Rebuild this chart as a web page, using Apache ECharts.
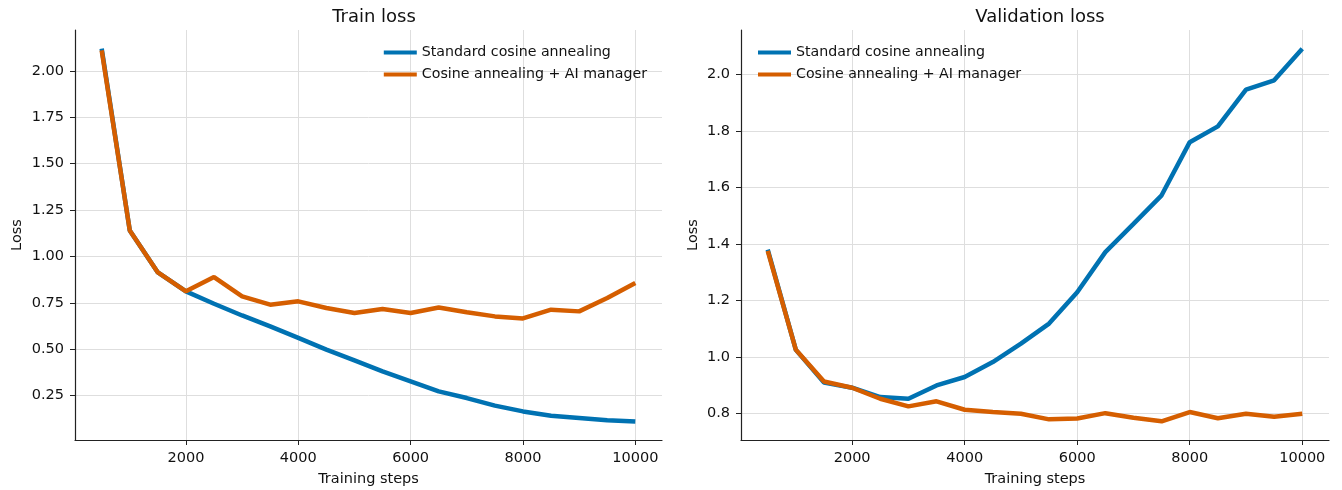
<!DOCTYPE html>
<html>
<head>
<meta charset="utf-8">
<script src="https://cdn.jsdelivr.net/npm/echarts@6/dist/echarts.min.js"></script>
<style>
  html, body { margin: 0; padding: 0; background: #fff; }
  #chart { width: 1342px; height: 490px; }
</style>
</head>
<body>
<div id="chart"></div>
<script>
// training steps (x) for every logged point
const steps = [500, 1000, 1500, 2000, 2500, 3000, 3500, 4000, 4500, 5000,
  5500, 6000, 6500, 7000, 7500, 8000, 8500, 9000, 9500, 10000];

// train loss
const trainStd = [2.12, 1.14, 0.914, 0.812, 0.745, 0.682, 0.623, 0.561, 0.498, 0.44,
  0.381, 0.327, 0.273, 0.237, 0.196, 0.165, 0.142, 0.13, 0.117, 0.111];
const trainAI = [2.11, 1.14, 0.914, 0.812, 0.889, 0.785, 0.74, 0.758, 0.722, 0.695,
  0.717, 0.695, 0.725, 0.699, 0.677, 0.666, 0.713, 0.704, 0.776, 0.857];

// validation loss
const valStd = [1.38, 1.025, 0.909, 0.891, 0.858, 0.852, 0.899, 0.929, 0.982, 1.047,
  1.118, 1.229, 1.371, 1.471, 1.572, 1.76, 1.816, 1.946, 1.979, 2.091];
const valAI = [1.375, 1.025, 0.913, 0.891, 0.852, 0.825, 0.843, 0.813, 0.805, 0.799,
  0.779, 0.782, 0.801, 0.785, 0.772, 0.805, 0.783, 0.799, 0.788, 0.799];

// tick labels
const xTicks = [2000, 4000, 6000, 8000, 10000];
const trainTicks = [0.25, 0.5, 0.75, 1.0, 1.25, 1.5, 1.75, 2.0];
const valTicks = [0.8, 1.0, 1.2, 1.4, 1.6, 1.8, 2.0];

const names = ["Standard cosine annealing", "Cosine annealing + AI manager"];
const colors = ["#0072B2", "#D55E00"];

const font = "DejaVu Sans";
const txt = "#111";
const pair = (ys) => steps.map((s, i) => [s, ys[i]]);

const xAxisBase = (gridIndex) => ({
  type: "value",
  gridIndex,
  min: 25,
  max: 10475,
  name: "Training steps",
  nameLocation: "middle",
  nameGap: 32,
  nameTextStyle: { fontFamily: font, fontSize: 14.5, color: txt },
  axisLine: { show: true, onZero: false, lineStyle: { color: "#222", width: 1.2 } },
  axisTick: { show: true, inside: false, length: 5, customValues: xTicks, lineStyle: { color: "#222" } },
  axisLabel: { customValues: xTicks, margin: 11, fontFamily: font, fontSize: 14.5, color: txt,
    formatter: (v) => String(v) },
  splitLine: { show: true, lineStyle: { color: "#dedede", width: 1 } },
});

const yAxisBase = (gridIndex, min, max, ticks, dec, gap) => ({
  type: "value",
  gridIndex,
  min,
  max,
  name: "Loss",
  nameLocation: "middle",
  nameGap: gap,
  nameTextStyle: { fontFamily: font, fontSize: 14.5, color: txt },
  axisLine: { show: true, onZero: false, lineStyle: { color: "#222", width: 1.2 } },
  axisTick: { show: true, inside: false, length: 5, customValues: ticks, lineStyle: { color: "#222" } },
  axisLabel: { customValues: ticks, margin: 11, fontFamily: font, fontSize: 14.5, color: txt,
    formatter: (v) => v.toFixed(dec) },
  splitLine: { show: true, lineStyle: { color: "#dedede", width: 1 } },
});

const lineSeries = (name, color, data, idx) => ({
  name,
  type: "line",
  xAxisIndex: idx,
  yAxisIndex: idx,
  data,
  showSymbol: false,
  symbol: "none",
  lineStyle: { color, width: 4.5 },
  itemStyle: { color },
  z: name === names[1] ? 3 : 2,
});

const legendBase = {
  orient: "vertical",
  top: 39,
  icon: "rect",
  itemWidth: 33,
  itemHeight: 4,
  itemGap: 5,
  align: "left",
  data: names,
  textStyle: { fontFamily: font, fontSize: 14.2, color: txt, lineHeight: 17 },
};

const chart = echarts.init(document.getElementById("chart"), null, { renderer: "canvas" });
const option = {
  animation: false,
  backgroundColor: "#fff",
  title: [
    { text: "Train loss", left: 369, top: 3, textAlign: "center",
      textStyle: { fontFamily: font, fontSize: 18, fontWeight: "normal", color: txt } },
    { text: "Validation loss", left: 1035, top: 3, textAlign: "center",
      textStyle: { fontFamily: font, fontSize: 18, fontWeight: "normal", color: txt } },
  ],
  legend: [
    Object.assign({}, legendBase, { right: 690 }),
    Object.assign({}, legendBase, { left: 753 }),
  ],
  grid: [
    { left: 75, right: 680, top: 30, bottom: 50, outerBoundsMode: "none", containLabel: false },
    { left: 741, right: 13, top: 30, bottom: 50, outerBoundsMode: "none", containLabel: false },
  ],
  xAxis: [xAxisBase(0), xAxisBase(1)],
  yAxis: [
    yAxisBase(0, 0.011, 2.22, trainTicks, 2, 50),
    yAxisBase(1, 0.706, 2.157, valTicks, 1, 40),
  ],
  series: [
    lineSeries(names[0], colors[0], pair(trainStd), 0),
    lineSeries(names[1], colors[1], pair(trainAI), 0),
    lineSeries(names[0], colors[0], pair(valStd), 1),
    lineSeries(names[1], colors[1], pair(valAI), 1),
  ],
};
chart.setOption(option);
</script>
</body>
</html>
